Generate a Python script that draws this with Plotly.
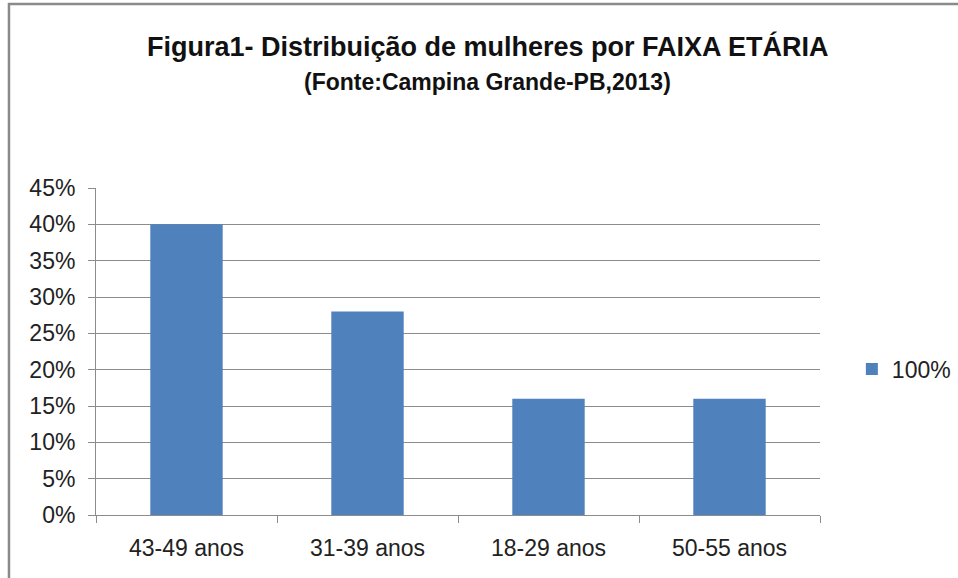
import plotly.graph_objects as go

categories = ["43-49 anos", "31-39 anos", "18-29 anos", "50-55 anos"]
values = [0.40, 0.28, 0.16, 0.16]
series_name = "100%"
title_line1 = "Figura1- Distribuição de mulheres por FAIXA ETÁRIA"
title_line2 = "(Fonte:Campina Grande-PB,2013)"

FONT = "Liberation Sans"
GRID = "#8c8c8c"

fig = go.Figure()
fig.add_trace(go.Bar(x=categories, y=values, name=series_name,
                     marker=dict(color="#4F81BD", line=dict(width=0)),
                     showlegend=True))

fig.update_layout(
    width=958, height=578,
    margin=dict(l=96, r=138, t=188, b=63, autoexpand=False),
    paper_bgcolor="white", plot_bgcolor="white",
    bargap=0.6,
    font=dict(family=FONT, size=23, color="#222222"),
    showlegend=True,
    legend=dict(x=1.044, y=0.4465, xanchor="left", yanchor="middle",
                font=dict(size=23, color="#222222"),
                itemwidth=30, bgcolor="rgba(0,0,0,0)"),
    xaxis=dict(showline=True, linecolor=GRID, linewidth=1,
               ticks="outside", tickson="boundaries", ticklen=7,
               tickcolor=GRID, showgrid=False, automargin=False,
               ticklabelstandoff=12),
    yaxis=dict(range=[0, 0.45], dtick=0.05, tickformat=".0%",
               showline=True, linecolor=GRID, linewidth=1,
               ticks="outside", ticklen=7, tickcolor=GRID,
               showgrid=True, gridcolor=GRID, gridwidth=1, automargin=False,
               zeroline=False, ticklabelstandoff=8),
    annotations=[
        dict(text="<b>" + title_line1 + "</b>", xref="paper", yref="paper",
             x=0.5414, y=1.434, xanchor="center", yanchor="middle",
             showarrow=False, font=dict(family=FONT, size=27, color="#111111")),
        dict(text="<b>" + title_line2 + "</b>", xref="paper", yref="paper",
             x=0.5414, y=1.324, xanchor="center", yanchor="middle",
             showarrow=False, font=dict(family=FONT, size=23, color="#111111")),
    ],
    shapes=[
        dict(type="rect", xref="paper", yref="paper",
             x0=-0.1202, x1=1.25, y0=-0.3, y1=1.5627,
             line=dict(color="#8a8a8a", width=2.5), fillcolor="rgba(0,0,0,0)",
             layer="below"),
    ],
)

fig.write_html("out.html", config={"displayModeBar": False},
               post_script="document.body.style.margin='0';")
